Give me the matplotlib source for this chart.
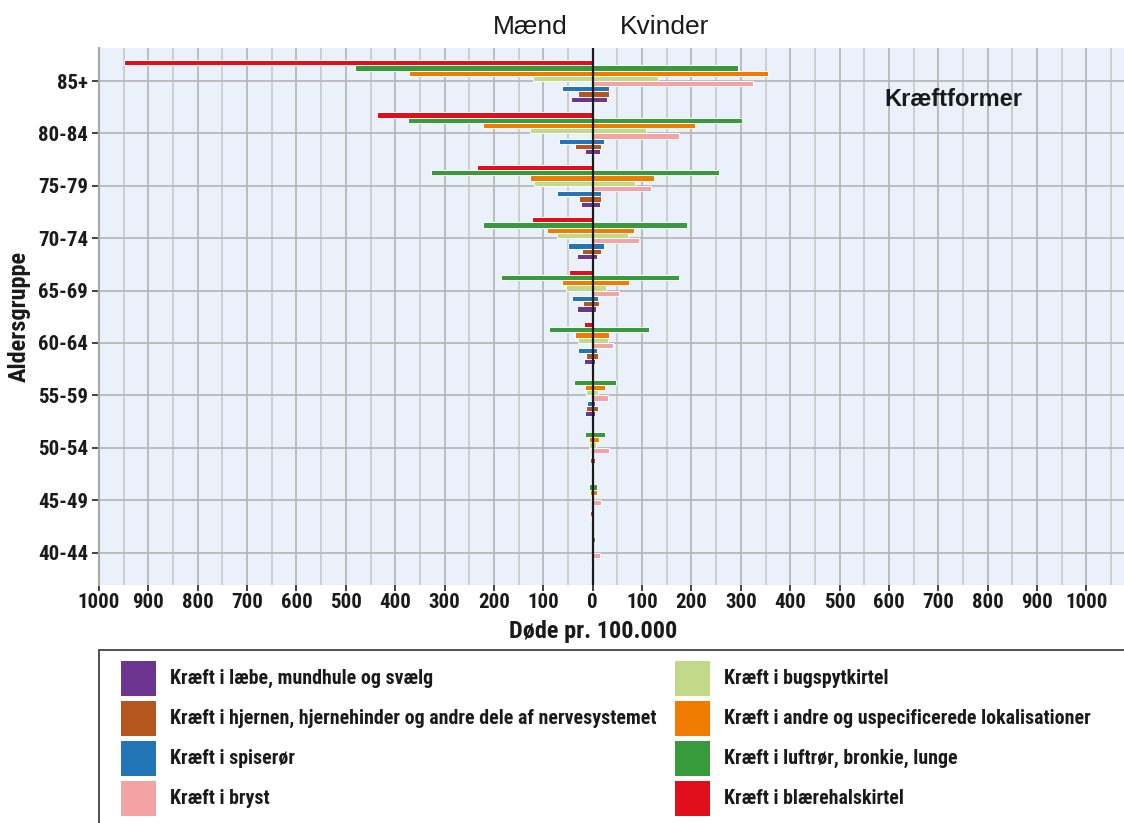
import numpy as np
import matplotlib
matplotlib.use("Agg")
import matplotlib.pyplot as plt
from matplotlib import font_manager
from matplotlib.patches import Rectangle
from matplotlib.transforms import blended_transform_factory

# aldersgrupper, oppefra og ned
aldre = ["85+", "80-84", "75-79", "70-74", "65-69", "60-64", "55-59", "50-54", "45-49", "40-44"]

# kræftformer i den rækkefølge søjlerne står oppefra i hver gruppe
former = [
    "Kræft i blærehalskirtel",
    "Kræft i luftrør, bronkie, lunge",
    "Kræft i andre og uspecificerede lokalisationer",
    "Kræft i bugspytkirtel",
    "Kræft i bryst",
    "Kræft i spiserør",
    "Kræft i hjernen, hjernehinder og andre dele af nervesystemet",
    "Kræft i læbe, mundhule og svælg",
]
farver = ["#e10e1c", "#379a3b", "#ef7c00", "#c3d98a", "#f4a3a4", "#2275b6", "#b5561e", "#6e3590"]

# døde pr. 100.000, mænd (85+ ... 40-44)
maend = [
    [950, 436, 234, 123, 49, 18, 4, 3, 0, 0],
    [482, 375, 328, 223, 186, 89, 38, 16, 7, 0],
    [372, 222, 127, 93, 63, 36, 16, 8, 5, 2],
    [121, 127, 118, 73, 55, 30, 14, 8, 3, 0],
    [0, 0, 0, 0, 0, 0, 0, 0, 0, 0],
    [63, 69, 72, 51, 43, 30, 11, 3, 1, 0],
    [30, 36, 27, 22, 20, 14, 14, 6, 6, 4],
    [44, 15, 23, 32, 32, 17, 15, 3, 3, 0],
]
# døde pr. 100.000, kvinder
kvinder = [
    [0, 0, 0, 0, 0, 0, 0, 0, 0, 0],
    [295, 303, 255, 191, 175, 114, 47, 25, 9, 5],
    [354, 208, 125, 83, 74, 32, 24, 13, 8, 0],
    [132, 108, 86, 71, 27, 31, 11, 6, 1, 0],
    [325, 174, 118, 93, 53, 42, 30, 32, 16, 15],
    [32, 22, 17, 22, 11, 8, 4, 0, 0, 0],
    [33, 17, 17, 17, 13, 11, 11, 5, 0, 0],
    [29, 14, 14, 9, 7, 5, 5, 3, 0, 0],
]

# legendens rækkefølge (to kolonner)
leg_venstre = [7, 6, 5, 4]
leg_hoejre = [3, 2, 1, 0]

# smal skrift hvis den findes, ellers Liberation Sans
fonte = font_manager.fontManager.ttflist
navne = {f.name for f in fonte}
if "Roboto Condensed" in navne:
    smal, skala = "Roboto Condensed", 1.0
elif "Liberation Sans Narrow" in navne:
    smal, skala = "Liberation Sans Narrow", 1.0
else:
    smal, skala = "Liberation Sans", 0.85
bred = "Liberation Sans" if "Liberation Sans" in navne else "DejaVu Sans"

fig = plt.figure(figsize=(11.24, 8.23), dpi=100)
ax = fig.add_axes([99 / 1124, 1 - 585 / 823, 1 - 99 / 1124, (585 - 48) / 823])
ax.set_facecolor("#eaf1fa")

n = len(aldre)
pos = np.arange(n)[::-1]
hoejde = 0.1
for i in range(len(former)):
    forskyd = 0.35 - i * hoejde
    ax.barh(pos + forskyd, -np.array(maend[i]), height=hoejde, color=farver[i],
            edgecolor="white", linewidth=0.7, zorder=3)
    ax.barh(pos + forskyd, np.array(kvinder[i]), height=hoejde, color=farver[i],
            edgecolor="white", linewidth=0.7, zorder=3)

ax.axvline(0, color="#1a1a1a", linewidth=1.6, zorder=4)

ax.set_xlim(-1000, 1076)
ax.set_ylim(-0.62, n - 1 + 0.63)
ax.set_xticks(np.arange(-1000, 1001, 100))
ax.set_xticklabels([str(abs(v)) for v in range(-1000, 1001, 100)])
ax.set_xticks(np.arange(-950, 1076, 100), minor=True)
ax.set_yticks(pos)
ax.set_yticklabels(aldre)

ax.grid(True, which="major", axis="both", color="#b8b8b8", linewidth=1.3, zorder=1)
ax.grid(True, which="minor", axis="x", color="#c8c8c8", linewidth=1.2, zorder=1)
ax.set_axisbelow(True)

for s in ["top", "right", "bottom"]:
    ax.spines[s].set_visible(False)
ax.spines["left"].set_color("#a8a8a8")
ax.spines["left"].set_linewidth(1.5)

ax.tick_params(axis="x", which="major", length=4, width=1.2, color="#222222", pad=2)
ax.tick_params(axis="x", which="minor", length=0)
ax.tick_params(axis="y", length=5, width=1.2, color="#222222", pad=3)
for t in ax.get_xticklabels() + ax.get_yticklabels():
    t.set_fontfamily(smal)
    t.set_fontweight("bold")
    t.set_fontsize(15 * skala)
    t.set_color("#1a1a1a")

ax.set_xlabel("Døde pr. 100.000", fontfamily=smal, fontweight="bold",
              fontsize=17.5 * skala, color="#1a1a1a")
# x-etiketten står midt under nul-linjen
x0_akse = (0 - ax.get_xlim()[0]) / (ax.get_xlim()[1] - ax.get_xlim()[0])
ax.xaxis.set_label_coords(x0_akse, -0.066)
ax.set_ylabel("Aldersgruppe", fontfamily=smal, fontweight="bold",
              fontsize=17.5 * skala, color="#1a1a1a", labelpad=5)

trans = blended_transform_factory(ax.transData, fig.transFigure)
fig.text(-51, 1 - 27 / 823, "Mænd", transform=trans, ha="right", va="center",
         fontfamily=bred, fontsize=19, color="#1a1a1a")
fig.text(55, 1 - 27 / 823, "Kvinder", transform=trans, ha="left", va="center",
         fontfamily=bred, fontsize=19, color="#1a1a1a")

ax.text(591, 1 - (100 - 48) / 537, "Kræftformer", transform=blended_transform_factory(ax.transData, ax.transAxes),
        ha="left", va="center", fontfamily=bred, fontweight="bold", fontsize=17, color="#1a1a1a")

# legende tegnet som boks med felter
W, H = 1124, 823
fig.add_artist(Rectangle((99 / W, -0.1), 1.0, 1 - 650 / H + 0.1, transform=fig.transFigure,
                         facecolor="white", edgecolor="#333333", linewidth=1.2))
for kol, (idx_liste, x0) in enumerate([(leg_venstre, 121), (leg_hoejre, 675)]):
    for r, idx in enumerate(idx_liste):
        yc = 678 + r * 40.3
        fig.add_artist(Rectangle((x0 / W, 1 - (yc + 17.5) / H), 35 / W, 35 / H,
                                 transform=fig.transFigure, facecolor=farver[idx], edgecolor="none"))
        fig.text((x0 + 49) / W, 1 - yc / H, former[idx], ha="left", va="center",
                 fontfamily=smal, fontweight="bold", fontsize=14.3 * skala,
                 color="#1a1a1a")

fig.savefig("out.png", dpi=100)
